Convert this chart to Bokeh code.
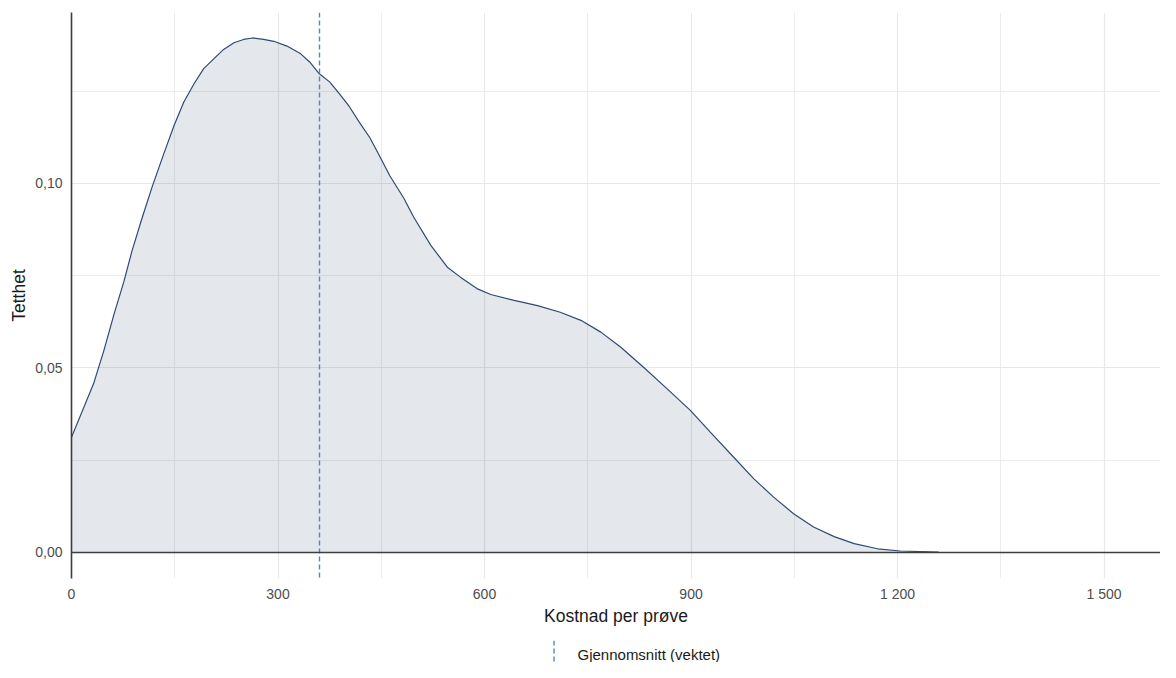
from bokeh.plotting import figure
from bokeh.layouts import column
from bokeh.models import Range1d, FixedTicker, Span, Label, ColumnDataSource
from bokeh.embed import file_html
from bokeh.resources import INLINE

# ---- data ----
cost = [0, 32, 47, 62, 76, 88, 103, 117, 134, 149, 163, 178, 192, 207, 221, 236,
        250, 263, 279, 294, 313, 333, 346, 360, 375, 389, 404, 418, 433, 447, 462,
        483, 497, 522, 546, 565, 589, 609, 643, 677, 710, 740, 769, 798, 831, 865,
        899, 928, 962, 991, 1020, 1049, 1078, 1108, 1137, 1171, 1204, 1260]
density = [0.0312, 0.0457, 0.0547, 0.0647, 0.0733, 0.0818, 0.0909, 0.0990, 0.1080,
           0.1157, 0.1220, 0.1270, 0.1311, 0.1338, 0.1363, 0.1381, 0.1390, 0.1394,
           0.1390, 0.1385, 0.1372, 0.1351, 0.1329, 0.1297, 0.1275, 0.1243, 0.1207,
           0.1166, 0.1125, 0.1076, 0.1022, 0.0959, 0.0909, 0.0832, 0.0773, 0.0746,
           0.0715, 0.0699, 0.0683, 0.0669, 0.0651, 0.0629, 0.0597, 0.0556, 0.0502,
           0.0444, 0.0385, 0.0326, 0.0258, 0.0200, 0.0150, 0.0105, 0.0069, 0.0043,
           0.0024, 0.0010, 0.0004, 0.0001]
weighted_mean = [360]
legend_label = "Gjennomsnitt (vektet)"

x_ticks = [0, 300, 600, 900, 1200, 1500]
x_tick_labels = ["0", "300", "600", "900", "1 200", "1 500"]
x_minor = [150, 450, 750, 1050, 1350]
y_ticks = [0.0, 0.05, 0.10]
y_tick_labels = ["0,00", "0,05", "0,10"]
y_minor = [0.025, 0.075, 0.125]

FONT = "Liberation Sans"
MEAN_COLOR = "#4f87c7"

src = ColumnDataSource(dict(x=cost, y=density, y0=[0] * len(cost)))

p = figure(width=1160, height=628, output_backend="svg", toolbar_location=None,
           x_range=Range1d(0, 1582), y_range=Range1d(-0.00705, 0.1463),
           min_border_left=71, min_border_right=0, min_border_top=12, min_border_bottom=50)
p.outline_line_color = None
p.background_fill_color = "white"

# grids
p.xaxis.ticker = FixedTicker(ticks=x_ticks, minor_ticks=x_minor)
p.yaxis.ticker = FixedTicker(ticks=y_ticks, minor_ticks=y_minor)
for g in (p.xgrid, p.ygrid):
    g.grid_line_color = "#e8e8e8"
    g.grid_line_width = 1.2
    g.minor_grid_line_color = "#ececec"
    g.minor_grid_line_width = 1

# area + curve
p.varea(x="x", y1="y0", y2="y", source=src, fill_color="#1f3a5f", fill_alpha=0.12)
p.line(x="x", y="y", source=src, line_color="#2f4a72", line_width=1.2)

# zero line
p.add_layout(Span(location=0, dimension="width", line_color="#3d3d3d", line_width=1.6))

# mean line
p.vspan(x=weighted_mean, line_color=MEAN_COLOR, line_width=1.4, line_dash="5 3")

# axes
p.xaxis.major_label_overrides = dict(zip(x_ticks, x_tick_labels))
p.yaxis.major_label_overrides = dict(zip(y_ticks, y_tick_labels))
p.xaxis.axis_label = "Kostnad per prøve"
p.yaxis.axis_label = "Tetthet"
for ax in (p.xaxis[0], p.yaxis[0]):
    ax.major_tick_line_color = None
    ax.minor_tick_line_color = None
    ax.major_tick_out = 0
    ax.major_tick_in = 0
    ax.minor_tick_out = 0
    ax.minor_tick_in = 0
    ax.major_label_text_font = FONT
    ax.major_label_text_font_size = "14px"
    ax.major_label_text_color = "#4d4d4d"
    ax.axis_label_text_font = FONT
    ax.axis_label_text_font_size = "17.5px"
    ax.axis_label_text_font_style = "normal"
    ax.axis_label_text_color = "#1a1a1a"
p.xaxis.axis_line_color = None
p.xaxis.major_label_standoff = 7
p.xaxis.axis_label_standoff = 1
p.yaxis.axis_line_color = "#3d3d3d"
p.yaxis.axis_line_width = 1.6
p.yaxis.major_label_standoff = 9
p.yaxis.axis_label_standoff = 3

# ---- legend strip (key: vertical dashed line, as in the reference) ----
leg = figure(width=1160, height=34, output_backend="svg", toolbar_location=None,
             x_range=Range1d(0, 1160), y_range=Range1d(0, 1),
             x_axis_type=None, y_axis_type=None,
             min_border_left=0, min_border_right=0, min_border_top=12, min_border_bottom=0)
leg.outline_line_color = None
leg.grid.visible = False
leg.add_layout(Span(location=514, dimension="height", line_color=MEAN_COLOR,
                    line_width=1.4, line_dash="5 3"))
leg.add_layout(Label(x=539, y=0.38, text=legend_label, text_baseline="middle",
                     text_font=FONT, text_font_size="15px", text_color="#1a1a1a"))

open("out.html", "w").write(file_html(column(p, leg, spacing=0), INLINE))
